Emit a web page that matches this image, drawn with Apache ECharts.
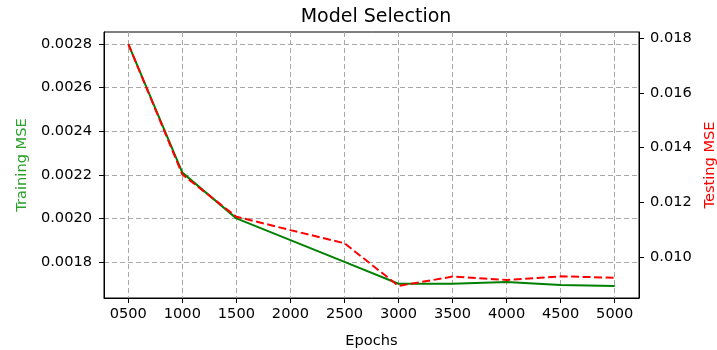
<!DOCTYPE html>
<html>
<head>
<meta charset="utf-8">
<script src="https://cdn.jsdelivr.net/npm/echarts@6/dist/echarts.min.js"></script>
<style>html,body{margin:0;padding:0;background:#fff}#c{width:717px;height:350px}</style>
</head>
<body>
<div id="c"></div>
<script>
var epochs = [500, 1000, 1500, 2000, 2500, 3000, 3500, 4000, 4500, 5000];
var trainingMSE = [0.00280, 0.00221, 0.00200, 0.00190, 0.00180, 0.00170, 0.00170, 0.001708, 0.001694, 0.00169];
var testingMSE = [0.01778, 0.01301, 0.01147, 0.01098, 0.01050, 0.00894, 0.00928, 0.00916, 0.00929, 0.00924];
var leftTicks = [0.0018, 0.0020, 0.0022, 0.0024, 0.0026, 0.0028];
var rightTicks = [0.010, 0.012, 0.014, 0.016, 0.018];

function pad(arr, frac) {
  var mn = Math.min.apply(null, arr), mx = Math.max.apply(null, arr);
  var d = (mx - mn) * frac;
  return [mn - d, mx + d];
}
var xr = pad(epochs, 0.05);
var lr = pad(trainingMSE, 0.05);
var rr = pad(testingMSE, 0.05);

var font = 'DejaVu Sans';
var fs = 14.6;
var chart = echarts.init(document.getElementById('c'), null, {renderer: 'canvas'});
chart.setOption({
  animation: false,
  title: {
    text: 'Model Selection', left: 371, top: 3, textAlign: 'center',
    textStyle: {fontFamily: font, fontSize: 19, fontWeight: 'normal', color: '#000'}
  },
  grid: {left: 104, right: 78, top: 32, bottom: 52, show: true, borderColor: '#000', borderWidth: 1,
    backgroundColor: 'transparent', containLabel: false, outerBoundsMode: 'none'},
  xAxis: {
    type: 'value', min: xr[0], max: xr[1],
    name: 'Epochs', nameLocation: 'middle', nameGap: 36,
    nameTextStyle: {fontFamily: font, fontSize: fs, color: '#000'},
    axisLine: {show: true, lineStyle: {color: '#000', width: 1}},
    axisTick: {show: true, inside: false, length: 5, customValues: epochs, lineStyle: {color: '#000'}},
    axisLabel: {customValues: epochs, margin: 9, fontFamily: font, fontSize: fs, color: '#000',
      formatter: function (v) { return String(Math.round(v)).padStart(4, '0'); }},
    splitLine: {show: true, lineStyle: {color: '#a8a8a8', type: [5, 3], width: 1}}
  },
  yAxis: [{
    type: 'value', position: 'left', min: lr[0], max: lr[1],
    name: 'Training MSE', nameLocation: 'middle', nameGap: 69, nameRotate: 90,
    nameTextStyle: {fontFamily: font, fontSize: fs, color: '#2ca02c'},
    axisLine: {show: true, lineStyle: {color: '#000', width: 1}},
    axisTick: {show: true, inside: false, length: 5, customValues: leftTicks, lineStyle: {color: '#000'}},
    axisLabel: {customValues: leftTicks, margin: 12, fontFamily: font, fontSize: fs, color: '#000',
      formatter: function (v) { return v.toFixed(4); }},
    splitLine: {show: true, lineStyle: {color: '#a8a8a8', type: [5, 3], width: 1}}
  }, {
    type: 'value', position: 'right', min: rr[0], max: rr[1],
    name: 'Testing MSE', nameLocation: 'middle', nameGap: 62, nameRotate: 90,
    nameTextStyle: {fontFamily: font, fontSize: fs, color: '#ff0000'},
    axisLine: {show: true, lineStyle: {color: '#000', width: 1}},
    axisTick: {show: true, inside: false, length: 5, customValues: rightTicks, lineStyle: {color: '#000'}},
    axisLabel: {customValues: rightTicks, margin: 11, fontFamily: font, fontSize: fs, color: '#000',
      formatter: function (v) { return v.toFixed(3); }},
    splitLine: {show: false}
  }],
  series: [{
    name: 'Training MSE', type: 'line', yAxisIndex: 0,
    data: epochs.map(function (e, i) { return [e, trainingMSE[i]]; }),
    showSymbol: false, symbol: 'none',
    lineStyle: {color: '#008000', width: 2}
  }, {
    name: 'Testing MSE', type: 'line', yAxisIndex: 1,
    data: epochs.map(function (e, i) { return [e, testingMSE[i]]; }),
    showSymbol: false, symbol: 'none',
    lineStyle: {color: '#ff0000', width: 2, type: [8, 3.5]}
  }]
});
</script>
</body>
</html>
